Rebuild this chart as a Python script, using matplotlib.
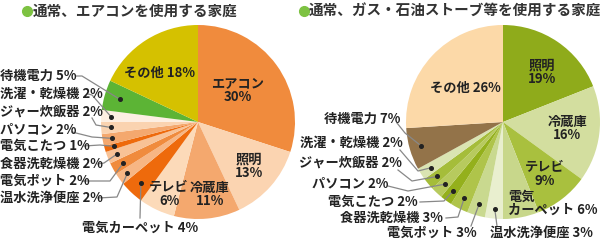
import matplotlib.pyplot as plt
import numpy as np

plt.rcParams['font.family'] = ['Noto Sans CJK JP', 'DejaVu Sans']

W, H = 600, 241

# left pie: 通常、エアコンを使用する家庭
left_names = ["エアコン", "照明", "冷蔵庫", "テレビ", "電気カーペット", "温水洗浄便座",
              "電気ポット", "食器洗乾燥機", "電気こたつ", "パソコン", "ジャー炊飯器",
              "洗濯・乾燥機", "待機電力", "その他"]
left_vals = [30, 13, 11, 6, 4, 2, 2, 2, 1, 2, 2, 2, 5, 18]
left_colors = ["#F08B3D", "#FBD4B1", "#F4A86E", "#FCDAB9", "#EE6A0C", "#F7B684",
               "#F08B3D", "#F8C296", "#EE6A0C", "#F4A86E", "#FAD3B0", "#FDEFE2",
               "#5CB435", "#D5C100"]

# right pie: 通常、ガス・石油ストーブ等を使用する家庭
right_names = ["照明", "冷蔵庫", "テレビ", "電気カーペット", "温水洗浄便座", "電気ポット",
               "食器洗乾燥機", "電気こたつ", "パソコン", "ジャー炊飯器", "洗濯・乾燥機",
               "待機電力", "その他"]
right_vals = [19, 16, 9, 6, 3, 3, 3, 2, 2, 2, 2, 7, 26]
right_colors = ["#8FAB1B", "#D3DE9F", "#A9C03E", "#C8D78B", "#E9EFCF", "#C9D98F",
                "#AFC44A", "#94B01C", "#B7CA5E", "#A5BD3A", "#DAE4B2", "#937349",
                "#FCD9A8"]

fig = plt.figure(figsize=(6, 2.41), dpi=100)
ax = fig.add_axes([0, 0, 1, 1])

R = 97
LC = (198, H - 122)
RC = (503, H - 122)

ax.pie(left_vals, colors=left_colors, startangle=90, counterclock=False,
       center=LC, radius=R, wedgeprops=dict(linewidth=0), frame=True)
ax.pie(right_vals, colors=right_colors, startangle=90, counterclock=False,
       center=RC, radius=R, wedgeprops=dict(linewidth=0), frame=True)
ax.set_xlim(0, W)
ax.set_ylim(0, H)
ax.set_aspect('equal')
ax.axis('off')


def dot_pos(vals, idx, center, frac=0.9):
    start = 90 - sum(vals[:idx]) * 3.6
    mid = np.radians(start - vals[idx] * 1.8)
    return center[0] + R * frac * np.cos(mid), center[1] + R * frac * np.sin(mid)


FS = 9.5
TK = dict(fontsize=FS, fontweight='bold', color='#222222')
LINE = dict(color='#888888', lw=0.9)
LS = 0.92


def leader(vals, idx, center, text, tx, ty, ha, lx, ly, frac=0.9, via=None):
    # text at (tx, ty) in pixel coords from top; line from (lx, ly) to the wedge dot
    ax.text(tx, H - ty, text, ha=ha, va='center', **TK)
    dx, dy = dot_pos(vals, idx, center, frac)
    pts = [(lx, H - ly)]
    if via is not None:
        pts.append((via[0], H - via[1]))
    pts.append((dx, dy))
    xs, ys = zip(*pts)
    ax.plot(xs, ys, **LINE)
    ax.plot(dx, dy, 'o', color='#222222', ms=2.6)


# titles
ax.plot(27, H - 11, 'o', color='#7DC242', ms=7)
ax.text(33, H - 11, "通常、エアコンを使用する家庭", ha='left', va='center',
        fontsize=10.5, fontweight='bold', color='#333333')
ax.plot(304, H - 11, 'o', color='#7DC242', ms=7)
ax.text(309, H - 11, "通常、ガス・石油ストーブ等を使用する家庭", ha='left', va='center',
        fontsize=10.5, fontweight='bold', color='#333333')

# left pie inner labels
ax.text(160, H - 73, "その他 18%", ha='center', va='center', **TK)
ax.text(238, H - 90, "エアコン\n30%", ha='center', va='center', linespacing=LS, **TK)
ax.text(249, H - 166, "照明\n13%", ha='center', va='center', linespacing=LS, **TK)
ax.text(210, H - 194, "冷蔵庫\n11%", ha='center', va='center', linespacing=LS, **TK)
ax.text(169, H - 194, "テレビ\n6%", ha='center', va='center', linespacing=LS, **TK)

# left pie outer labels
lv, lc = left_vals, LC
leader(lv, 12, lc, "待機電力 5%", 0, 76, 'left', 76, 76, 0.84, via=(82, 76))
leader(lv, 11, lc, "洗濯・乾燥機 2%", 0, 94, 'left', 88, 94, 0.9, via=(92, 95))
leader(lv, 10, lc, "ジャー炊飯器 2%", 0, 112, 'left', 92, 118, 0.9, via=(96, 125))
leader(lv, 9, lc, "パソコン 2%", 0, 129, 'left', 72, 132, 0.9, via=(92, 137))
leader(lv, 8, lc, "電気こたつ 1%", 0, 146, 'left', 84, 146, 0.9, via=(100, 145))
leader(lv, 7, lc, "食器洗乾燥機 2%", 0, 164, 'left', 98, 164, 0.9, via=(104, 163))
leader(lv, 6, lc, "電気ポット 2%", 0, 181, 'left', 82, 181, 0.88, via=(110, 181))
leader(lv, 5, lc, "温水洗浄便座 2%", 0, 198, 'left', 98, 198, 0.9, via=(117, 197))
leader(lv, 4, lc, "電気カーペット 4%", 140, 228, 'center', 140, 218, 0.86)

# right pie inner labels
ax.text(465, H - 88, "その他 26%", ha='center', va='center', **TK)
ax.text(542, H - 72, "照明\n19%", ha='center', va='center', linespacing=LS, **TK)
ax.text(567, H - 128, "冷蔵庫\n16%", ha='center', va='center', linespacing=LS, **TK)
ax.text(545, H - 174, "テレビ\n9%", ha='center', va='center', linespacing=LS, **TK)
ax.text(508, H - 203, "電気\nカーペット 6%", ha='left', va='center', linespacing=LS, **TK)

# right pie outer labels
rv, rc = right_vals, RC
leader(rv, 11, rc, "待機電力 7%", 400, 119, 'right', 397, 123, 0.88, via=(405, 133))
leader(rv, 10, rc, "洗濯・乾燥機 2%", 403, 143, 'right', 400, 150, 0.88, via=(418, 171))
leader(rv, 9, rc, "ジャー炊飯器 2%", 402, 163, 'right', 398, 170, 0.88, via=(412, 181))
leader(rv, 8, rc, "パソコン 2%", 388, 183, 'right', 388, 186, 0.88, via=(408, 191))
leader(rv, 7, rc, "電気こたつ 2%", 418, 202, 'right', 420, 202, 0.88, via=(444, 201))
leader(rv, 6, rc, "食器洗乾燥機 3%", 443, 218, 'right', 446, 218, 0.88, via=(458, 217))
leader(rv, 5, rc, "電気ポット 3%", 477, 233, 'right', 471, 226, 0.88)
leader(rv, 4, rc, "温水洗浄便座 3%", 490, 233, 'left', 497, 226, 0.9)

fig.savefig("out.png", dpi=100)
